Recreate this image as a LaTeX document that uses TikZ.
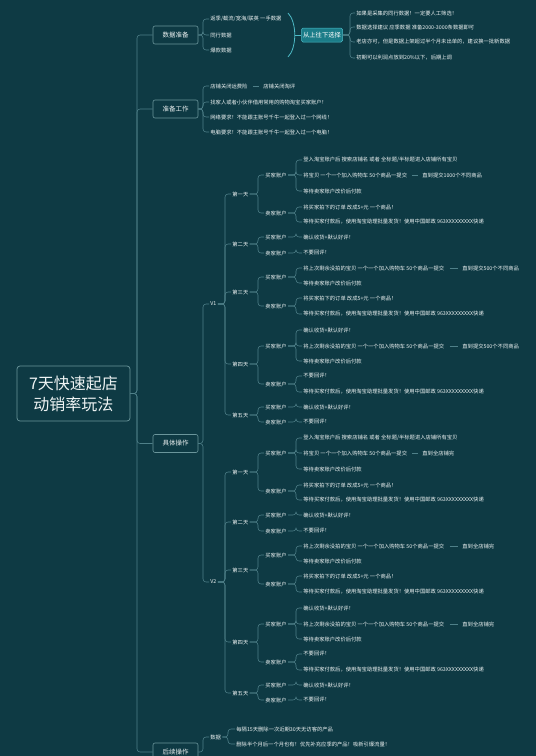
\documentclass[tikz,border=0pt]{standalone}
\usepackage{fontspec}
\setmainfont{Noto Sans CJK SC}
\definecolor{bg}{HTML}{0E3A44}
\definecolor{ln}{HTML}{4F8089}
\definecolor{bx}{HTML}{6A959B}
\definecolor{tx}{HTML}{EEF3F3}
\definecolor{hl}{HTML}{1B7C88}
\definecolor{hlb}{HTML}{4DBAC6}
\tikzset{
  lf/.style={anchor=west, inner sep=1.2pt, text=tx, font=\fontsize{5.3}{6}\selectfont},
  topic/.style={draw=bx, rounded corners=2pt, text=tx, minimum width=45pt, minimum height=18pt, inner sep=1pt, font=\fontsize{6.5}{7}\selectfont, line width=0.6pt},
  titlebox/.style={draw=bx, rounded corners=3pt, text=tx, minimum width=113pt, minimum height=55pt, align=center, font=\fontsize{16}{21}\selectfont, line width=0.7pt},
  selbox/.style={draw=hlb, fill=hl, rounded corners=1.5pt, text=white, minimum width=41pt, minimum height=14pt, inner sep=1pt, font=\fontsize{6.3}{7}\selectfont, line width=0.5pt},
  conn/.style={draw=ln, line width=0.55pt, rounded corners=3pt},
  dashlink/.style={draw=ln, line width=0.55pt, shorten <=4pt, shorten >=3pt},
  brk/.style={draw=hlb, line width=0.8pt},
}
\newcommand\cn[3]{\draw[conn] (#1.east) -- (#1.east -| #3) |- (#2.west);}
\newcommand\vblock[4]{%
 \begin{scope}[shift={(0,#2)}]
  \node[lf] (#1) at (209,304) {#1};
  \node[lf] (#1d1) at (231,194) {第一天};
  \node[lf] (#1d2) at (231,244) {第二天};
  \node[lf] (#1d3) at (231,292) {第三天};
  \node[lf] (#1d4) at (231,364) {第四天};
  \node[lf] (#1d5) at (231,415) {第五天};
  \node[lf] (#1b1) at (264,175) {买家账户};
  \node[lf] (#1s1) at (264,213) {卖家账户};
  \node[lf] (#1b2) at (264,237) {买家账户};
  \node[lf] (#1s2) at (264,253) {卖家账户};
  \node[lf] (#1b3) at (264,277) {买家账户};
  \node[lf] (#1s3) at (264,306) {卖家账户};
  \node[lf] (#1b4) at (264,346) {买家账户};
  \node[lf] (#1s4) at (264,384) {卖家账户};
  \node[lf] (#1b5) at (264,407) {买家账户};
  \node[lf] (#1s5) at (264,422) {卖家账户};
  \node[lf] (#1L1) at (302,160) {登入淘宝账户后 搜索店铺名 或者 全标题/半标题进入店铺所有宝贝};
  \node[lf] (#1L2) at (302,175) {将宝贝 一个一个加入购物车 50个商品一提交};
  \node[lf] (#1E1) at (421,175) {#3};
  \node[lf] (#1L3) at (302,191) {等待卖家账户改价后付款};
  \node[lf] (#1L4) at (302,207) {将买家拍下的订单 改成5+元 一个商品！};
  \node[lf] (#1L5) at (302,222) {等待买家付款后，使用淘宝助理批量发货！使用中国邮政 963XXXXXXXXX快递};
  \node[lf] (#1L6) at (302,237) {确认收货+默认好评！};
  \node[lf] (#1L7) at (302,253) {不要回评！};
  \node[lf] (#1L8) at (302,268) {将上次剩余没拍的宝贝 一个一个加入购物车 50个商品一提交};
  \node[lf] (#1E2) at (461,268) {#4};
  \node[lf] (#1L9) at (302,283) {等待卖家账户改价后付款};
  \node[lf] (#1L10) at (302,298) {将买家拍下的订单 改成5+元 一个商品！};
  \node[lf] (#1L11) at (302,314) {等待买家付款后，使用淘宝助理批量发货！使用中国邮政 963XXXXXXXXX快递};
  \node[lf] (#1L12) at (302,330) {确认收货+默认好评！};
  \node[lf] (#1L13) at (302,346) {将上次剩余没拍的宝贝 一个一个加入购物车 50个商品一提交};
  \node[lf] (#1E3) at (461,346) {#4};
  \node[lf] (#1L14) at (302,361) {等待卖家账户改价后付款};
  \node[lf] (#1L15) at (302,376) {不要回评！};
  \node[lf] (#1L16) at (302,392) {等待买家付款后，使用淘宝助理批量发货！使用中国邮政 963XXXXXXXXX快递};
  \node[lf] (#1L17) at (302,407) {确认收货+默认好评！};
  \node[lf] (#1L18) at (302,422) {不要回评！};
  \cn{#1}{#1d1}{cV}\cn{#1}{#1d2}{cV}\cn{#1}{#1d3}{cV}\cn{#1}{#1d4}{cV}\cn{#1}{#1d5}{cV}
  \cn{#1d1}{#1b1}{cD}\cn{#1d1}{#1s1}{cD}
  \cn{#1d2}{#1b2}{cD}\cn{#1d2}{#1s2}{cD}
  \cn{#1d3}{#1b3}{cD}\cn{#1d3}{#1s3}{cD}
  \cn{#1d4}{#1b4}{cD}\cn{#1d4}{#1s4}{cD}
  \cn{#1d5}{#1b5}{cD}\cn{#1d5}{#1s5}{cD}
  \cn{#1b1}{#1L1}{cL}\cn{#1b1}{#1L2}{cL}\cn{#1b1}{#1L3}{cL}
  \cn{#1s1}{#1L4}{cL}\cn{#1s1}{#1L5}{cL}
  \cn{#1b2}{#1L6}{cL}\cn{#1s2}{#1L7}{cL}
  \cn{#1b3}{#1L8}{cL}\cn{#1b3}{#1L9}{cL}
  \cn{#1s3}{#1L10}{cL}\cn{#1s3}{#1L11}{cL}
  \cn{#1b4}{#1L12}{cL}\cn{#1b4}{#1L13}{cL}\cn{#1b4}{#1L14}{cL}
  \cn{#1s4}{#1L15}{cL}\cn{#1s4}{#1L16}{cL}
  \cn{#1b5}{#1L17}{cL}\cn{#1s5}{#1L18}{cL}
  \draw[dashlink] (#1L2.east) -- (#1E1.west);
  \draw[dashlink] (#1L8.east) -- (#1E2.west);
  \draw[dashlink] (#1L13.east) -- (#1E3.west);
 \end{scope}}
\begin{document}
\begin{tikzpicture}[x=1pt,y=-1pt]
\useasboundingbox (0,0) rectangle (536,756);
\fill[bg] (0,0) rectangle (536,756);
\coordinate (cT) at (137,0);
\coordinate (cA) at (203,0);
\coordinate (cV) at (225,0);
\coordinate (cD) at (258,0);
\coordinate (cL) at (296,0);
\coordinate (cS) at (350,0);
\coordinate (cH) at (228,0);

\node[titlebox] (root) at (73.5,393.5) {7天快速起店\\动销率玩法};
\node[topic] (t1) at (175.5,35) {数据准备};
\node[topic] (t2) at (175.5,109) {准备工作};
\node[topic] (t3) at (175.5,443.5) {具体操作};
\node[topic] (t4) at (175.5,752) {后续操作};
\cn{root}{t1}{cT}\cn{root}{t2}{cT}\cn{root}{t3}{cT}\cn{root}{t4}{cT}

% 数据准备
\node[lf] (a1) at (209,19) {返季/截流/宽海/联英 一手数据};
\node[lf] (a2) at (209,35) {同行数据};
\node[lf] (a3) at (209,50) {爆款数据};
\cn{t1}{a1}{cA}\cn{t1}{a2}{cA}\cn{t1}{a3}{cA}
\draw[brk] (288,13) .. controls (297,22) and (297,48) .. (288,57);
\coordinate (bm) at (295,35);
\node[selbox] (sel) at (322,35) {从上往下选择};
\draw[brk] (bm) -- (sel.west);
\node[lf] (c1) at (355,13) {如果是采集的同行数据！一定要人工筛选！};
\node[lf] (c2) at (355,27) {数据选择建议 应季数据 准备2000-3000条数据即可};
\node[lf] (c3) at (355,42) {老店亦可，但是数据上架超过半个月未出单的，建议换一批新数据};
\node[lf] (c4) at (355,58) {初期可以利润点放到20\%以下，后期上调};
\cn{sel}{c1}{cS}\cn{sel}{c2}{cS}\cn{sel}{c3}{cS}\cn{sel}{c4}{cS}

% 准备工作
\node[lf] (p1) at (209,86) {店铺关闭运费险};
\node[lf] (p1e) at (262,86) {店铺关闭淘评};
\node[lf] (p2) at (209,102) {找家人或者小伙伴借用常用的购物淘宝买家账户！};
\node[lf] (p3) at (209,117) {网络要求！不能跟主账号千牛一起登入过一个网线！};
\node[lf] (p4) at (209,132) {电脑要求！不能跟主账号千牛一起登入过一个电脑！};
\cn{t2}{p1}{cA}\cn{t2}{p2}{cA}\cn{t2}{p3}{cA}\cn{t2}{p4}{cA}
\draw[dashlink] (p1.east) -- (p1e.west);

% 具体操作
\vblock{V1}{0}{直到提交1000个不同商品}{直到提交500个不同商品}
\vblock{V2}{278}{直到全店铺完}{直到全店铺完}
\cn{t3}{V1}{cA}\cn{t3}{V2}{cA}

% 后续操作
\node[lf] (h) at (209,737) {数据};
\node[lf] (h1) at (235,729) {每隔15天删除一次近期30天无访客的产品};
\node[lf] (h2) at (235,744) {删除半个月后一个月也有！优先补充应季的产品！吸新引爆流量！};
\cn{t4}{h}{cA}
\cn{h}{h1}{cH}\cn{h}{h2}{cH}
\end{tikzpicture}
\end{document}
